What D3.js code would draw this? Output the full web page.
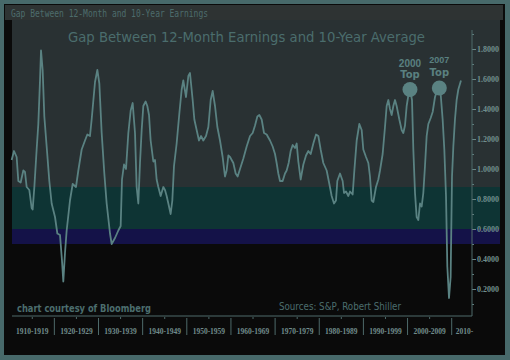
<!DOCTYPE html>
<html>
<head>
<meta charset="utf-8">
<script src="https://cdn.jsdelivr.net/npm/d3@7"></script>
<style>
  body { margin: 0; background: #47696a; }
  svg { display: block; }
</style>
</head>
<body>
<div id="v1"></div>
<script>
// decimal years and the gap ratio
const years = [1910.33,1910.86,1911.46,1911.84,1912.37,1912.97,1913.35,1913.73,1914.33,1914.86,1915.09,1915.47,1915.99,1916.37,1916.75,1916.98,1917.35,1917.73,1918.26,1918.86,1919.39,1920.15,1920.68,1921.28,1921.73,1922.03,1922.41,1922.79,1923.54,1924.15,1924.90,1925.43,1926.19,1926.94,1927.47,1928.07,1928.45,1929.21,1929.74,1930.19,1930.72,1931.32,1931.85,1932.61,1932.98,1933.74,1934.49,1935.02,1935.32,1935.78,1936.23,1936.76,1937.29,1937.74,1938.27,1938.64,1939.02,1939.40,1939.78,1940.15,1940.68,1941.06,1941.44,1941.81,1942.42,1942.80,1943.17,1943.55,1944.08,1944.68,1945.06,1945.44,1945.82,1946.34,1946.72,1947.10,1947.70,1948.31,1948.84,1949.21,1949.82,1950.35,1950.72,1951.33,1951.71,1952.23,1952.76,1953.22,1953.74,1954.35,1954.88,1955.41,1955.86,1956.39,1956.92,1957.52,1958.12,1958.65,1959.03,1959.41,1959.79,1960.54,1961.07,1961.52,1962.05,1962.81,1963.56,1964.32,1964.92,1965.45,1965.98,1966.43,1966.96,1967.49,1968.09,1968.85,1969.45,1969.98,1970.35,1970.73,1971.11,1971.71,1972.24,1972.62,1973.07,1973.53,1973.98,1974.51,1974.89,1975.26,1975.79,1976.40,1977.00,1977.53,1978.06,1978.66,1979.27,1979.79,1980.32,1980.92,1981.68,1982.29,1982.81,1983.34,1983.79,1984.09,1984.70,1985.30,1985.61,1986.06,1986.59,1986.97,1987.57,1987.95,1988.48,1989.08,1989.61,1989.98,1990.59,1991.12,1991.49,1991.87,1992.25,1992.85,1993.38,1993.76,1994.36,1994.89,1995.27,1995.65,1996.02,1996.40,1996.78,1997.16,1997.53,1998.14,1998.67,1999.04,1999.42,1999.80,2000.18,2000.55,2001.01,2001.31,2001.69,2002.06,2002.44,2002.82,2003.20,2003.57,2003.95,2004.33,2004.71,2005.24,2005.69,2006.22,2006.75,2007.20,2007.50,2007.95,2008.33,2008.71,2009.01,2009.39,2009.76,2010.07,2010.37,2010.74,2011.12,2011.50,2012.10];
const gap = [1.06,1.12,1.08,0.92,0.91,0.99,0.98,0.88,0.86,0.74,0.73,0.88,1.13,1.30,1.59,1.79,1.66,1.35,1.15,0.92,0.77,0.68,0.57,0.56,0.39,0.25,0.44,0.59,0.79,0.90,0.88,0.99,1.13,1.19,1.23,1.22,1.33,1.58,1.66,1.57,1.24,0.97,0.77,0.57,0.50,0.54,0.59,0.62,0.93,1.03,1.00,1.24,1.39,1.44,1.24,0.88,0.77,1.04,1.26,1.42,1.45,1.42,1.36,1.19,1.05,1.06,0.93,0.88,0.82,0.88,0.86,0.82,0.77,0.70,0.79,1.02,1.17,1.37,1.53,1.59,1.48,1.62,1.64,1.46,1.33,1.26,1.19,1.22,1.19,1.22,1.28,1.46,1.52,1.42,1.28,1.19,1.08,0.95,0.99,1.09,1.08,1.04,0.97,0.95,1.00,1.07,1.15,1.22,1.24,1.29,1.35,1.36,1.33,1.24,1.23,1.19,1.15,1.10,1.04,0.97,0.92,0.92,0.97,0.99,1.04,1.12,1.16,1.14,1.17,1.05,0.93,1.03,1.09,1.12,1.10,1.17,1.23,1.22,1.13,1.04,0.99,0.90,0.82,0.77,0.79,0.92,0.97,0.92,0.84,0.85,0.82,0.85,0.83,0.99,1.19,1.30,1.26,1.13,1.08,1.04,0.95,0.79,0.78,0.88,0.93,0.99,1.10,1.28,1.42,1.46,1.40,1.36,1.42,1.46,1.42,1.33,1.26,1.24,1.29,1.42,1.49,1.53,1.46,1.13,0.84,0.68,0.66,0.77,0.75,0.84,1.02,1.22,1.30,1.34,1.38,1.48,1.53,1.54,1.50,1.33,1.13,0.82,0.35,0.14,0.28,0.95,1.15,1.33,1.46,1.53,1.59];

const decades = [1910,1920,1930,1940,1950,1960,1970,1980,1990,2000,2010];
const decadeLabels = ["1910-1919","1920-1929","1930-1939","1940-1949","1950-1959","1960-1969","1970-1979","1980-1989","1990-1999","2000-2009","2010-"];
const yTicks = [0.2,0.4,0.6,0.8,1.0,1.2,1.4,1.6,1.8];
const yMinor = [0.1,0.3,0.5,0.7,0.9,1.1,1.3,1.5,1.7,1.9];

// shaded zones: [from, to, colour]
const zoneFrom = [0.88, 0.6, 0.5, 0];
const zoneTo = [2, 0.88, 0.6, 0.5];
const zoneColor = ["#293133", "#0e3434", "#141248", "#0a0a0a"];

const tops = [{year: 2000.55, v: 1.53, label: "2000"}, {year: 2007.2, v: 1.54, label: "2007"}];

const w = 510;
const h = 360;
const plotL = 12, plotR = 472, plotT = 20, plotB = 316;

let svg = d3.select('#v1').append("svg")
            .attr("width", w)
            .attr("height", h);

let xScale = d3.scaleLinear().domain([1910, 2010]).range([10.2, 451.7]);
let yScale = d3.scaleLinear().domain([0, 2]).range([319, 19]);

// frame
svg.append("rect").attr("x", 0).attr("y", 0).attr("width", w).attr("height", h).attr("fill", "#47696a");
svg.append("rect").attr("x", 4).attr("y", 4).attr("width", 501).attr("height", 351).attr("fill", "#0a0a0a");
svg.append("rect").attr("x", 5).attr("y", 5).attr("width", 498).attr("height", 15).attr("fill", "#2e3333");
svg.append("text")
   .attr("x", 11).attr("y", 17)
   .attr("font-family", "DejaVu Sans Mono").attr("font-size", "11px")
   .attr("textLength", 197).attr("lengthAdjust", "spacingAndGlyphs")
   .attr("fill", "#4d6c6c")
   .text("Gap Between 12-Month and 10-Year Earnings");

// zones
svg.selectAll("rect.zone").data(zoneColor).enter().append("rect")
   .attr("class", "zone")
   .attr("x", plotL)
   .attr("width", 500 - plotL)
   .attr("y", (c, i) => Math.max(plotT, yScale(zoneTo[i])))
   .attr("height", (c, i) => Math.min(plotB, yScale(zoneFrom[i])) - Math.max(plotT, yScale(zoneTo[i])))
   .attr("fill", c => c);

// chart title
svg.append("text")
   .attr("x", 68).attr("y", 42)
   .attr("font-family", "DejaVu Sans").attr("font-size", "14px")
   .attr("textLength", 357).attr("lengthAdjust", "spacingAndGlyphs")
   .attr("fill", "#4b6d6d")
   .text("Gap Between 12-Month Earnings and 10-Year Average");

// right axis
let yAxis = d3.axisRight(yScale).tickValues(yTicks).tickSize(4).tickPadding(1).tickFormat(d3.format(".4f"));
let gy = svg.append("g").attr("transform", "translate(" + plotR + ",0)").call(yAxis);
gy.select(".domain").remove();
gy.selectAll("line").attr("stroke", "#6a8888");
gy.selectAll("text").attr("font-family", "Liberation Serif").attr("font-weight", "bold")
  .attr("font-size", "8px").attr("fill", "#718e8e");

let gy2 = svg.append("g").attr("transform", "translate(" + plotR + ",0)")
             .call(d3.axisRight(yScale).tickValues(yMinor).tickSize(2).tickFormat(""));
gy2.select(".domain").remove();
gy2.selectAll("line").attr("stroke", "#5f7f7f");

svg.append("line").attr("x1", plotR).attr("x2", plotR).attr("y1", plotT + 10).attr("y2", plotB)
   .attr("stroke", "#4e6a6a").attr("stroke-width", 1);
svg.append("line").attr("x1", plotL).attr("x2", plotR).attr("y1", plotB).attr("y2", plotB)
   .attr("stroke", "#4e6a6a").attr("stroke-width", 1);

// bottom decade strip
svg.selectAll("line.sep").data(decades.slice(1)).enter().append("line")
   .attr("class", "sep")
   .attr("x1", d => xScale(d)).attr("x2", d => xScale(d))
   .attr("y1", plotB + 2).attr("y2", plotB + 19)
   .attr("stroke", "#4e6a6a");
svg.selectAll("line.mid").data(decades.slice(0, 10)).enter().append("line")
   .attr("class", "mid")
   .attr("x1", d => xScale(d + 5)).attr("x2", d => xScale(d + 5))
   .attr("y1", plotB + 1).attr("y2", plotB + 3)
   .attr("stroke", "#4e6a6a");
svg.selectAll("text.dec").data(decades).enter().append("text")
   .attr("class", "dec")
   .attr("x", (d, i) => i < 10 ? xScale(d + 5) : xScale(d) + 4)
   .attr("y", 334)
   .attr("text-anchor", (d, i) => i < 10 ? "middle" : "start")
   .attr("font-family", "Liberation Serif").attr("font-weight", "bold").attr("font-size", "7.5px")
   .attr("fill", "#718c8c")
   .text((d, i) => decadeLabels[i]);

// the line
let line = d3.line().x((d, i) => xScale(years[i])).y(d => yScale(d));
svg.append("path").datum(gap)
   .attr("d", line)
   .attr("fill", "none")
   .attr("stroke", "#5a8282")
   .attr("stroke-width", 1.8)
   .attr("stroke-linejoin", "round");

// tops
svg.selectAll("circle").data(tops).enter().append("circle")
   .attr("cx", d => xScale(d.year)).attr("cy", d => yScale(d.v))
   .attr("r", 7.5).attr("fill", "#5a8282");
svg.selectAll("text.topyr").data(tops).enter().append("text")
   .attr("class", "topyr")
   .attr("x", d => xScale(d.year)).attr("y", (d, i) => yScale(d.v) - (i == 0 ? 23 : 25))
   .attr("text-anchor", "middle")
   .attr("font-family", "Liberation Sans").attr("font-weight", "bold")
   .attr("font-size", (d, i) => i == 0 ? "10px" : "9px")
   .attr("fill", "#5a8080")
   .text(d => d.label);
svg.selectAll("text.toplbl").data(tops).enter().append("text")
   .attr("class", "toplbl")
   .attr("x", d => xScale(d.year)).attr("y", d => yScale(d.v) - 12)
   .attr("text-anchor", "middle")
   .attr("font-family", "DejaVu Sans").attr("font-weight", "bold").attr("font-size", "10px")
   .attr("fill", "#5a8080")
   .text("Top");

// footers
svg.append("text")
   .attr("x", 17).attr("y", 312)
   .attr("font-family", "DejaVu Sans").attr("font-weight", "bold").attr("font-size", "10px")
   .attr("textLength", 134).attr("lengthAdjust", "spacingAndGlyphs")
   .attr("fill", "#4c6e6e")
   .text("chart courtesy of Bloomberg");
svg.append("text")
   .attr("x", 279).attr("y", 310)
   .attr("font-family", "DejaVu Sans").attr("font-size", "10px")
   .attr("textLength", 122).attr("lengthAdjust", "spacingAndGlyphs")
   .attr("fill", "#4c6e6e")
   .text("Sources: S&P, Robert Shiller");
</script>
</body>
</html>
